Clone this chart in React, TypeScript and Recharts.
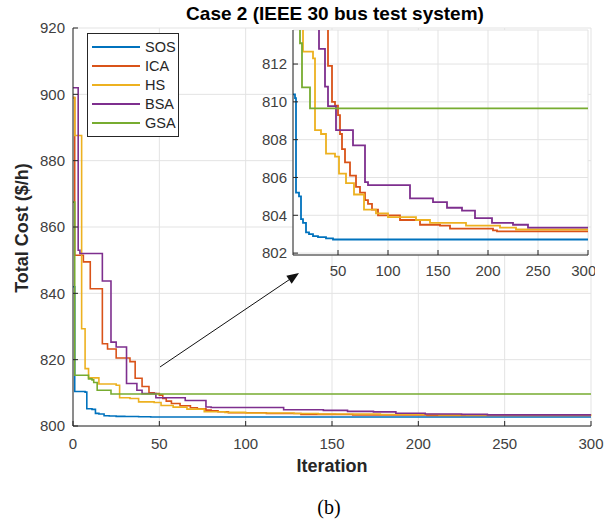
import React from 'react';
import {
  LineChart,
  Line,
  XAxis,
  YAxis,
  CartesianGrid,
  Legend,
  ReferenceLine,
} from 'recharts';

// convergence curves, breakpoints of each staircase (iteration -> best cost)
const sosIter = [0, 1, 7, 8, 11, 13, 15, 18, 21, 25, 30, 38, 45, 300];
const sosCost = [842, 810.4, 810.2, 805.2, 805.0, 803.8, 803.6, 803.1, 803.0, 802.9, 802.85, 802.78, 802.72, 802.72];

const icaIter = [0, 1, 6, 10, 17, 20, 25, 33, 36, 40, 44, 47, 50, 52, 54, 57, 62, 68, 72, 77, 80, 84, 90, 112, 132, 152, 162, 205, 209, 300];
const icaCost = [899, 851.5, 849.5, 841.4, 824.8, 823.2, 820.5, 819.4, 814.4, 811.9, 810, 809.8, 809.3, 808.3, 807.5, 806.8, 806.1, 805.5, 805.2, 804.8, 804.6, 804.3, 804.0, 803.75, 803.5, 803.45, 803.3, 803.2, 803.15, 803.15];

const hsIter = [0, 1, 5, 7, 9, 15, 25, 27, 33, 38, 47, 51, 58, 66, 76, 88, 100, 128, 142, 178, 212, 228, 300];
const hsCost = [899, 887.6, 829.3, 817.3, 814.5, 812.66, 812.3, 808.5, 808.3, 807.26, 807.1, 806.2, 805.7, 805.1, 804.3, 804.1, 803.9, 803.75, 803.6, 803.45, 803.35, 803.25, 803.2];

const bsaIter = [0, 3, 4, 17, 22, 25, 31, 37, 40, 48, 65, 77, 80, 122, 145, 159, 174, 187, 204, 225, 240, 300];
const bsaCost = [902, 853, 852, 843.7, 825.3, 823.8, 812.8, 810.8, 809.77, 808.5, 807.7, 805.75, 805.6, 804.9, 804.7, 804.4, 804.25, 803.85, 803.6, 803.5, 803.35, 803.35];

const gsaIter = [0, 1, 9, 11, 12, 14, 22, 300];
const gsaCost = [867.5, 815.3, 814.2, 813.9, 813.1, 810.77, 809.66, 809.66];

const seriesNames = ['SOS', 'ICA', 'HS', 'BSA', 'GSA'];
const seriesColors = ['#0072BD', '#D95319', '#EDB120', '#7E2F8E', '#77AC30'];

const xTicks = [0, 50, 100, 150, 200, 250, 300];
const yTicks = [800, 820, 840, 860, 880, 900, 920];
const insetXTicks = [50, 100, 150, 200, 250, 300];
const insetYTicks = [802, 804, 806, 808, 810, 812];

// arrow from main curves to the zoom box: [iteration, cost]
const arrowFrom = [50.4, 817.8];
const arrowTo = [130.9, 846.1];

const toPoints = (iters: number[], costs: number[]) =>
  iters.map((iter, i) => ({ iter, cost: costs[i] }));

const series = [
  toPoints(sosIter, sosCost),
  toPoints(icaIter, icaCost),
  toPoints(hsIter, hsCost),
  toPoints(bsaIter, bsaCost),
  toPoints(gsaIter, gsaCost),
];

const FONT = '"Liberation Sans", Arial, Helvetica, sans-serif';
const AXIS = '#262626';
const GRID = '#e3e3e3';
const tickStyle = { fill: '#404040', fontSize: 15, fontFamily: FONT };

// eslint-disable-next-line @typescript-eslint/no-explicit-any
function LegendBox({ payload }: any) {
  const items = [...(payload || [])].sort(
    (a: { value: string }, b: { value: string }) =>
      seriesNames.indexOf(a.value) - seriesNames.indexOf(b.value)
  );
  return (
    <div
      style={{
        border: '1px solid #262626',
        background: '#fff',
        width: 92,
        padding: '3px 0 4px 0',
        fontFamily: FONT,
        fontSize: 14.5,
        color: '#262626',
        boxSizing: 'border-box',
      }}
    >
      {items.map((entry: { value: string; color: string }) => (
        <div key={entry.value} style={{ display: 'flex', alignItems: 'center', height: 19 }}>
          <span
            style={{
              display: 'inline-block',
              width: 48,
              height: 2,
              marginLeft: 4,
              marginRight: 5,
              background: entry.color,
            }}
          />
          <span>{entry.value}</span>
        </div>
      ))}
    </div>
  );
}

// eslint-disable-next-line @typescript-eslint/no-explicit-any
function Arrow(props: any) {
  const { x1, y1, x2, y2 } = props;
  const ang = Math.atan2(y2 - y1, x2 - x1);
  const len = 13;
  const half = 0.38;
  const ax = x2 - len * Math.cos(ang - half);
  const ay = y2 - len * Math.sin(ang - half);
  const bx = x2 - len * Math.cos(ang + half);
  const by = y2 - len * Math.sin(ang + half);
  const bx0 = x2 - len * 0.8 * Math.cos(ang);
  const by0 = y2 - len * 0.8 * Math.sin(ang);
  return (
    <g>
      <line x1={x1} y1={y1} x2={bx0} y2={by0} stroke="#111" strokeWidth={1} />
      <polygon points={`${x2},${y2} ${ax},${ay} ${bx},${by}`} fill="#111" />
    </g>
  );
}

export default function App() {
  return (
    <div
      style={{
        position: 'absolute',
        left: 0,
        top: 0,
        width: 614,
        height: 524,
        background: '#fff',
        fontFamily: FONT,
      }}
    >
      <div
        style={{
          position: 'absolute',
          left: 73,
          width: 524,
          top: 3,
          textAlign: 'center',
          fontWeight: 'bold',
          fontSize: 19,
          color: '#000',
          lineHeight: '22px',
        }}
      >
        Case 2 (IEEE 30 bus test system)
      </div>

      <LineChart
        width={614}
        height={524}
        margin={{ top: 28, right: 23, bottom: 68, left: 0 }}
      >
        <CartesianGrid stroke={GRID} strokeWidth={1} />
        <XAxis
          dataKey="iter"
          type="number"
          domain={[0, 300]}
          ticks={xTicks}
          height={30}
          tick={tickStyle}
          tickSize={-5}
          tickMargin={17}
          axisLine={{ stroke: AXIS }}
          tickLine={{ stroke: AXIS }}
        />
        <XAxis
          xAxisId="top"
          orientation="top"
          type="number"
          domain={[0, 300]}
          ticks={xTicks}
          height={0}
          tick={() => <g />}
          tickSize={-5}
          axisLine={{ stroke: AXIS }}
          tickLine={{ stroke: AXIS }}
        />
        <YAxis
          type="number"
          domain={[800, 920]}
          ticks={yTicks}
          width={73}
          tick={tickStyle}
          tickSize={-5}
          tickMargin={13}
          axisLine={{ stroke: AXIS }}
          tickLine={{ stroke: AXIS }}
        />
        <YAxis
          yAxisId="right"
          orientation="right"
          type="number"
          domain={[800, 920]}
          ticks={yTicks}
          width={0}
          tick={() => <g />}
          tickSize={-5}
          axisLine={{ stroke: AXIS }}
          tickLine={{ stroke: AXIS }}
        />
        {series.map((data, i) => (
          <Line
            key={seriesNames[i]}
            data={data}
            dataKey="cost"
            name={seriesNames[i]}
            type="stepAfter"
            stroke={seriesColors[i]}
            strokeWidth={1.6}
            dot={false}
            isAnimationActive={false}
          />
        ))}
        <ReferenceLine
          segment={[
            { x: arrowFrom[0], y: arrowFrom[1] },
            { x: arrowTo[0], y: arrowTo[1] },
          ]}
          ifOverflow="visible"
          shape={Arrow}
        />
        <Legend
          layout="vertical"
          align="center"
          verticalAlign="middle"
          wrapperStyle={{ left: 87, top: 33, width: 92, height: 100 }}
          content={<LegendBox />}
        />
      </LineChart>

      <div style={{ position: 'absolute', left: 250, top: 22 }}>
        <LineChart
          width={345}
          height={265}
          margin={{ top: 8, right: 7, bottom: 0, left: 0 }}
        >
          <CartesianGrid stroke={GRID} strokeWidth={1} fill="#fff" fillOpacity={1} />
          <XAxis
            dataKey="iter"
            type="number"
            domain={[5, 300]}
            allowDataOverflow
            ticks={insetXTicks}
            height={32}
            tick={tickStyle}
            tickSize={-5}
            tickMargin={15}
            axisLine={{ stroke: AXIS }}
            tickLine={{ stroke: AXIS }}
          />
          <XAxis
            xAxisId="top"
            orientation="top"
            type="number"
            domain={[5, 300]}
            allowDataOverflow
            ticks={insetXTicks}
            height={0}
            tick={() => <g />}
            tickSize={-5}
            axisLine={{ stroke: AXIS }}
            tickLine={{ stroke: AXIS }}
          />
          <YAxis
            type="number"
            domain={[801.9, 813.8]}
            allowDataOverflow
            ticks={insetYTicks}
            width={43}
            tick={tickStyle}
            tickSize={-5}
            tickMargin={11}
            axisLine={{ stroke: AXIS }}
            tickLine={{ stroke: AXIS }}
          />
          <YAxis
            yAxisId="right"
            orientation="right"
            type="number"
            domain={[801.9, 813.8]}
            allowDataOverflow
            ticks={insetYTicks}
            width={0}
            tick={() => <g />}
            tickSize={-5}
            axisLine={{ stroke: AXIS }}
            tickLine={{ stroke: AXIS }}
          />
          {series.map((data, i) => (
            <Line
              key={seriesNames[i]}
              data={data}
              dataKey="cost"
              name={seriesNames[i]}
              type="stepAfter"
              stroke={seriesColors[i]}
              strokeWidth={1.8}
              dot={false}
              isAnimationActive={false}
            />
          ))}
        </LineChart>
      </div>

      <div
        style={{
          position: 'absolute',
          left: 22,
          top: 228,
          transform: 'translate(-50%, -50%) rotate(-90deg)',
          whiteSpace: 'nowrap',
          fontWeight: 'bold',
          fontSize: 18,
          color: '#262626',
        }}
      >
        Total Cost ($/h)
      </div>
      <div
        style={{
          position: 'absolute',
          left: 73,
          width: 518,
          top: 454,
          textAlign: 'center',
          fontWeight: 'bold',
          fontSize: 18,
          color: '#262626',
          lineHeight: '24px',
        }}
      >
        Iteration
      </div>
      <div
        style={{
          position: 'absolute',
          left: 0,
          width: 658,
          top: 494,
          textAlign: 'center',
          fontFamily: '"Liberation Serif", "Times New Roman", serif',
          fontSize: 20,
          color: '#000',
          lineHeight: '26px',
        }}
      >
        (b)
      </div>
    </div>
  );
}
